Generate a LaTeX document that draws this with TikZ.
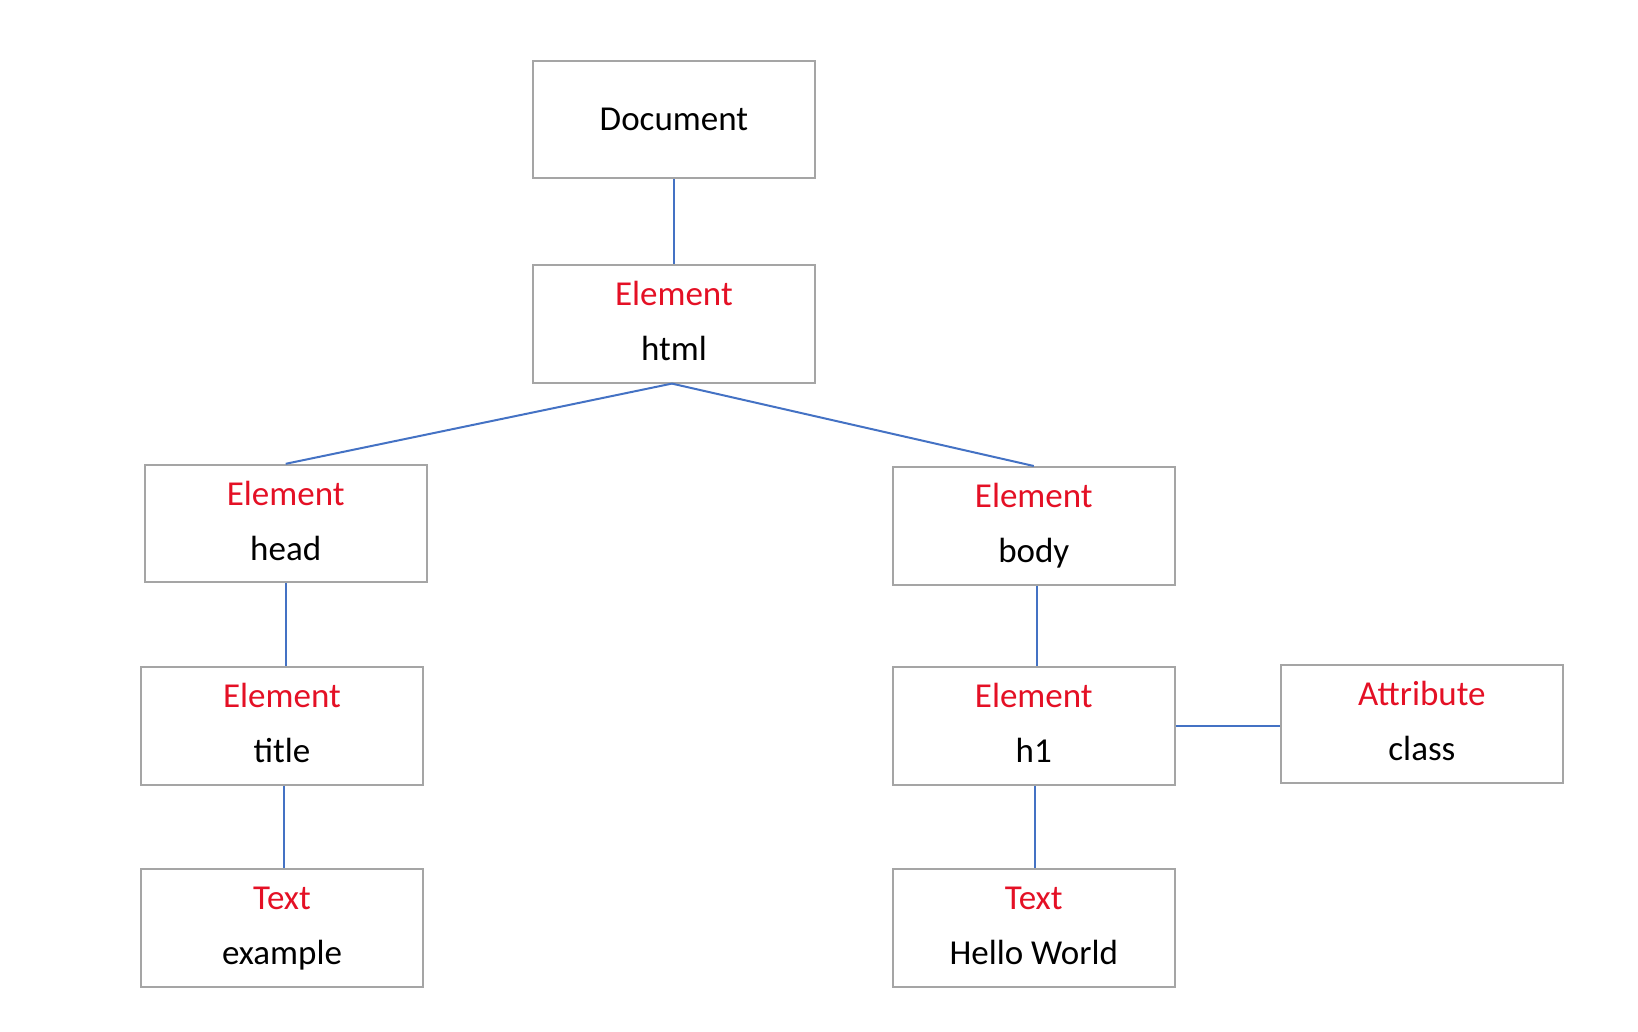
\documentclass[tikz,border=0pt]{standalone}
\usepackage{fontspec}
\setmainfont{Carlito}
\definecolor{elred}{RGB}{228,16,37}
\definecolor{boxgray}{RGB}{165,165,165}
\definecolor{linkblue}{RGB}{68,114,196}
\tikzset{
  domnode/.style={rectangle, draw=boxgray, line width=1pt, minimum width=141pt, minimum height=58.8pt, inner sep=0pt, font=\fontsize{17.5pt}{21pt}\selectfont},
  typelbl/.style={anchor=base, inner sep=0pt, text=elred, font=\fontsize{17.5pt}{21pt}\selectfont},
  namelbl/.style={anchor=base, inner sep=0pt, text=black, font=\fontsize{17.5pt}{21pt}\selectfont},
  link/.style={draw=linkblue, line width=1pt}
}
\begin{document}
\begin{tikzpicture}[x=0.5pt, y=-0.5pt]
\useasboundingbox (0,0) rectangle (1638,1032);
% boxes
\node[domnode] (doc) at (673.9,119.5) {Document};
\node[domnode] (html) at (673.9,323.8) {};
\node[domnode] (head) at (285.7,523.6) {};
\node[domnode] (title) at (282,726) {};
\node[domnode] (example) at (282,927.8) {};
\node[domnode] (body) at (1033.8,525.8) {};
\node[domnode] (h1) at (1033.8,726) {};
\node[domnode] (hello) at (1033.8,927.8) {};
\node[domnode] (attr) at (1421.9,724) {};
% labels
\foreach \b/\t/\n in {html/Element/html, head/Element/head, title/Element/title, example/Text/example, body/Element/body, h1/Element/h1, hello/Text/Hello World, attr/Attribute/class}{
  \node[typelbl] (\b-type) at ([yshift=-20.85pt]\b.north) {\t};
  \node[namelbl] (\b-name) at ([yshift=-48.35pt]\b.north) {\n};
}
% connectors
\draw[link] (doc.south) -- (html.north);
\draw[link] ([xshift=-1pt]html.south) -- (head.north);
\draw[link] ([xshift=-1pt]html.south) -- (body.north);
\draw[link] (head.south) -- (head.south |- title.north);
\draw[link] ([xshift=1pt]title.south) -- ([xshift=1pt]title.south |- example.north);
\draw[link] ([xshift=1.5pt]body.south) -- ([xshift=1.5pt]body.south |- h1.north);
\draw[link] ([xshift=0.5pt]h1.south) -- ([xshift=0.5pt]h1.south |- hello.north);
\draw[link] (h1.east) -- (h1.east -| attr.west);
\end{tikzpicture}
\end{document}
